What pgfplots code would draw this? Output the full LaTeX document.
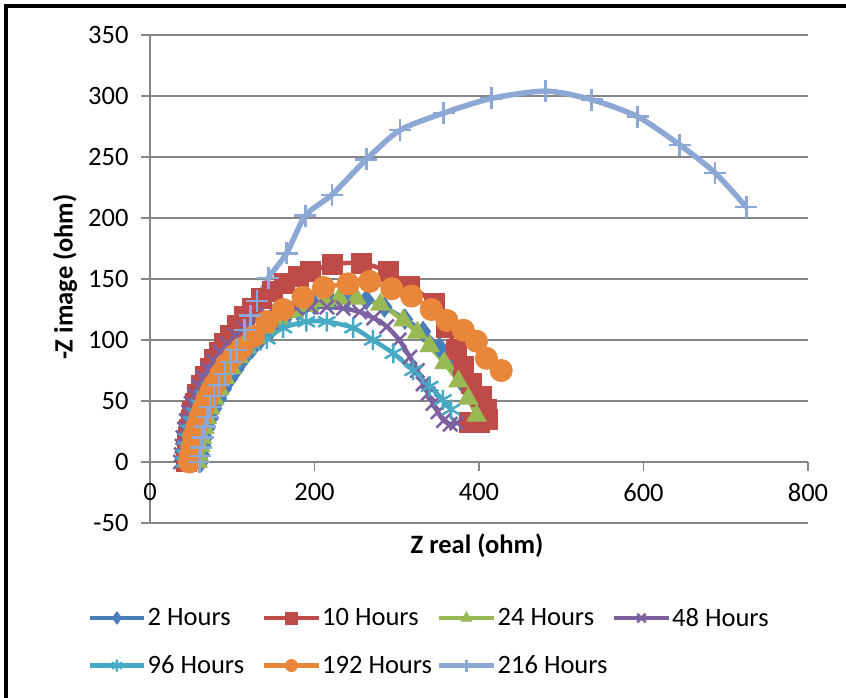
\documentclass[border=0pt]{standalone}
\usepackage{fontspec}
\setmainfont{Carlito}
\usepackage{pgfplots}
\pgfplotsset{compat=1.18}
\definecolor{gridgray}{HTML}{868686}
\definecolor{cA}{HTML}{4A7EBB}
\definecolor{cB}{HTML}{BE4B48}
\definecolor{cC}{HTML}{98B954}
\definecolor{cD}{HTML}{7D60A0}
\definecolor{cE}{HTML}{46AAC5}
\definecolor{cF}{HTML}{E8863A}
\definecolor{cG}{HTML}{8EA8D5}
\newcommand{\fs}{\fontsize{26.5}{32}\selectfont}
\begin{document}
\begin{tikzpicture}
\useasboundingbox (-150pt,-175pt) rectangle (696pt,523pt);
\fill[black] (-146pt,-175pt) rectangle (-142pt,519pt);
\fill[black] (-146pt,515pt) rectangle (696pt,519pt);
\begin{axis}[
  at={(0,0)}, anchor=south west,
  width=658pt, height=488pt, scale only axis,
  xmin=0, xmax=800, ymin=-50, ymax=350,
  xtick={0,200,...,800}, ytick={-50,0,...,350},
  axis x line*=middle, axis y line*=left,
  hide obscured x ticks=false, hide obscured y ticks=false,
  ymajorgrids, grid style={color=gridgray, line width=1.3pt},
  axis line style={color=gridgray, line width=1.3pt},
  tick style={color=gridgray, line width=1.3pt},
  major tick length=9pt, tick align=outside,
  /pgf/number format/assume math mode=true,
  ticklabel style={font=\fs, text=black},
  xticklabel style={yshift=-9pt},
  yticklabel style={xshift=-9pt},
  xlabel={\textbf{Z real (ohm)}},
  ylabel={\textbf{-Z image (ohm)}},
  label style={font=\fs, text=black},
  xlabel style={at={(axis description cs:0.497,-0.047)}, anchor=center},
  ylabel style={at={(axis description cs:-0.129,0.504)}, anchor=center, rotate=0},
  clip=false,
  legend columns=4,
  legend style={draw=none, fill=none, font=\fs, at={(axis description cs:-0.0995,-0.166)}, anchor=north west,
    nodes={inner xsep=1.5pt, inner ysep=2pt}, row sep=24pt},
  legend image code/.code={\draw[mark repeat=2,mark phase=2, mark size=6pt] plot coordinates {(0pt,0pt)(27pt,0pt)(54pt,0pt)};},
  every axis plot/.append style={smooth, tension=0.45, line width=4.5pt},
]
\addplot[color=cA, mark=diamond*, mark size=10pt, mark options={solid, line width=1pt, fill=cA}] coordinates {
(62,0)(63,6)(65,13)(67,20)(70,28)(74,36)(78,44)(84,52)(90,60)(97,68)(105,76)(114,85)(124,93)(135,101)(148,109)(163,117)(180,124)(200,129)(220,132)(240,134)(263,133)(285,127)(310,117)(332,107)(352,94)(366,84)(377,73)(383,62)};
\addlegendentry{\makebox[113pt][l]{2 Hours}}
\addplot[color=cB, mark=square*, mark size=10pt, mark options={solid, line width=1pt, fill=cB}] coordinates {
(44,0)(45,6)(46,13)(47,20)(48,27)(50,34)(52,41)(55,48)(58,55)(63,63)(68,70)(73,77)(79,84)(85,90)(91,97)(98,104)(106,112)(115,119)(125,126)(136,134)(149,140)(164,146)(180,152)(195,156)(222,162)(257,163)(290,156)(316,144)(346,130)(361,110)(373,92)(381,78)(391,64)(403,54)(409,43)(410,35)(400,32)(389,32)};
\addlegendentry{\makebox[113pt][l]{10 Hours}}
\addplot[color=cC, mark=triangle*, mark size=11pt, mark options={solid, line width=1pt, fill=cC}] coordinates {
(58,0)(59,6)(61,13)(63,20)(66,28)(69,36)(73,44)(78,52)(84,60)(91,69)(99,77)(108,86)(118,94)(130,102)(143,110)(158,117)(175,123)(193,128)(212,132)(230,134)(251,134)(280,129)(308,116)(325,106)(340,95)(358,81)(375,66)(387,52)(397,38)};
\addlegendentry{\makebox[113pt][l]{24 Hours}}
\addplot[color=cD, mark=x, mark size=10pt, mark options={solid, line width=2.5pt}] coordinates {
(37,0)(38,6)(39,13)(40,20)(42,27)(44,34)(47,41)(50,48)(54,55)(59,62)(64,69)(70,76)(77,83)(85,90)(94,97)(104,104)(115,110)(128,116)(142,121)(158,124)(178,126)(196,127)(215,127)(235,126)(255,123)(272,118)(288,111)(303,100)(316,86)(325,75)(332,64)(338,56)(344,48)(350,41)(357,34)(365,31)(373,32)};
\addlegendentry{\makebox[113pt][l]{48 Hours}}
\addplot[color=cE, mark=asterisk, mark size=10pt, mark options={solid, line width=2.5pt}] coordinates {
(42,0)(43,6)(44,12)(46,19)(48,26)(51,33)(55,40)(60,47)(66,54)(73,61)(81,68)(90,75)(100,82)(112,89)(125,96)(142,101)(162,110)(190,115)(215,115)(247,110)(271,100)(296,89)(320,75)(340,62)(356,51)(366,43)};
\addlegendentry{\makebox[113pt][l]{96 Hours}}
\addplot[color=cF, mark=*, mark size=11pt, mark options={solid, line width=1pt, fill=cF}] coordinates {
(48,0)(49,5)(51,12)(53,21)(57,29)(61,37)(65,44)(69,51)(74,58)(79,64)(86,72)(93,80)(102,87)(111,93)(126,103)(142,115)(162,125)(186,135)(211,143)(241,146)(267,148)(294,142)(318,136)(342,125)(361,116)(381,108)(397,99)(409,85)(427,75)};
\addlegendentry{\makebox[113pt][l]{192 Hours}}
\addplot[color=cG, mark=+, mark size=11pt, line width=5.5pt, mark options={solid, line width=2.5pt}] coordinates {
(60,0)(61,5)(62,12)(64,20)(67,29)(70,37)(73,45)(78,54)(84,63)(91,72)(98,82)(105,92)(115,108)(122,120)(130,132)(144,151)(166,171)(189,202)(221,219)(263,248)(304,272)(357,286)(415,298)(481,304)(537,297)(593,283)(644,260)(687,237)(725,209)};
\addlegendentry{\makebox[113pt][l]{216 Hours}}
\end{axis}
\end{tikzpicture}
\end{document}
